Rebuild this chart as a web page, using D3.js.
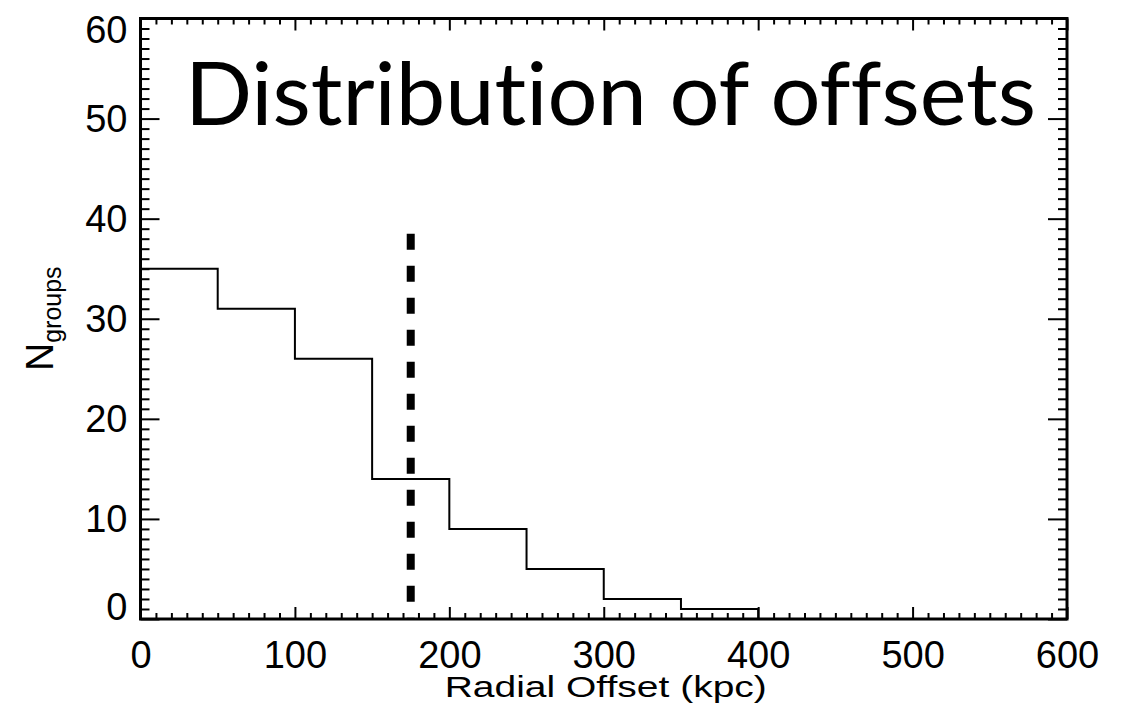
<!DOCTYPE html>
<html>
<head>
<meta charset="utf-8">
<script src="https://cdn.jsdelivr.net/npm/d3@7"></script>
<style>
  html, body { margin: 0; padding: 0; background: #fff; }
  svg { display: block; }
  .tick text { font-family: "Liberation Sans", Arial, Helvetica, sans-serif; fill: #000; }
  .title { font-variant-ligatures: none; font-feature-settings: "liga" 0, "clig" 0; }
</style>
</head>
<body>
<svg id="chart" width="1132" height="718"></svg>
<script>
// Histogram of radial offsets (bin width 50 kpc)
const binEdges = [0, 50, 100, 150, 200, 250, 300, 350, 400];
const groupCounts = [35, 31, 26, 14, 9, 5, 2, 1];
const medianOffset = 175;     // kpc, dashed marker
const medianTop = 38.5;       // height of the dashed marker

const xMajorTicks = [0, 100, 200, 300, 400, 500, 600];
const yMajorTicks = [0, 10, 20, 30, 40, 50, 60];

const svg = d3.select("#chart");
svg.append("rect").attr("width", 1132).attr("height", 718).attr("fill", "#fff");

const plotLeft = 140.5, plotRight = 1067, plotTop = 18.5, plotBottom = 619;
const x = d3.scaleLinear().domain([0, 600]).range([plotLeft, plotRight]);
const y = d3.scaleLinear().domain([0, 60]).range([plotBottom, plotTop]);

const xMinor = d3.range(0, 601, 10).filter(v => v % 100 !== 0);
const yMinor = d3.range(0, 61, 1).filter(v => v % 10 !== 0);

function styleAxis(g) {
  g.select(".domain").remove();
  g.selectAll(".tick line").attr("stroke", "#000").attr("stroke-width", 2);
}

// bottom axis with labels
svg.append("g").attr("transform", `translate(0,${plotBottom})`)
  .call(d3.axisBottom(x).tickValues(xMajorTicks).tickSize(-12).tickPadding(22).tickFormat(d3.format("d")))
  .call(styleAxis)
  .call(g => g.selectAll(".tick text").attr("font-size", 38));
svg.append("g").attr("transform", `translate(0,${plotBottom})`)
  .call(d3.axisBottom(x).tickValues(xMinor).tickSize(-6).tickFormat(""))
  .call(styleAxis);

// top axis, ticks only
svg.append("g").attr("transform", `translate(0,${plotTop})`)
  .call(d3.axisTop(x).tickValues(xMajorTicks).tickSize(-12).tickFormat(""))
  .call(styleAxis);
svg.append("g").attr("transform", `translate(0,${plotTop})`)
  .call(d3.axisTop(x).tickValues(xMinor).tickSize(-6).tickFormat(""))
  .call(styleAxis);

// left axis with labels
svg.append("g").attr("transform", `translate(${plotLeft},0)`)
  .call(d3.axisLeft(y).tickValues(yMajorTicks).tickSize(-19).tickPadding(13).tickFormat(d3.format("d")))
  .call(styleAxis)
  .call(g => g.selectAll(".tick text").attr("font-size", 38)
    .attr("dy", d => d === 60 ? "0.62em" : d === 0 ? "0.0em" : "0.34em"));
svg.append("g").attr("transform", `translate(${plotLeft},0)`)
  .call(d3.axisLeft(y).tickValues(yMinor).tickSize(-9).tickFormat(""))
  .call(styleAxis);

// right axis, ticks only
svg.append("g").attr("transform", `translate(${plotRight},0)`)
  .call(d3.axisRight(y).tickValues(yMajorTicks).tickSize(-19).tickFormat(""))
  .call(styleAxis);
svg.append("g").attr("transform", `translate(${plotRight},0)`)
  .call(d3.axisRight(y).tickValues(yMinor).tickSize(-9).tickFormat(""))
  .call(styleAxis);

// plot frame
svg.append("rect")
  .attr("x", plotLeft).attr("y", plotTop)
  .attr("width", plotRight - plotLeft).attr("height", plotBottom - plotTop)
  .attr("fill", "none").attr("stroke", "#000").attr("stroke-width", 3);

// histogram outline
const stepPoints = groupCounts.map((c, i) => [binEdges[i], c]);
stepPoints.push([binEdges[binEdges.length - 1], 0]);
const step = d3.line().x(d => x(d[0])).y(d => y(d[1])).curve(d3.curveStepAfter);
svg.append("path")
  .attr("d", step(stepPoints))
  .attr("fill", "none").attr("stroke", "#000").attr("stroke-width", 2);

// dashed median marker, drawn from the top down
svg.append("line")
  .attr("x1", x(medianOffset)).attr("x2", x(medianOffset))
  .attr("y1", y(medianTop)).attr("y2", y(0))
  .attr("stroke", "#000").attr("stroke-width", 8)
  .attr("stroke-dasharray", "16,16");

// title
svg.append("text")
  .attr("class", "title")
  .attr("x", 185).attr("y", 125)
  .attr("font-family", "Lato, 'Open Sans', sans-serif")
  .attr("font-size", 87)
  .attr("textLength", 851).attr("lengthAdjust", "spacingAndGlyphs")
  .attr("fill", "#000")
  .text("Distribution of offsets");

// x-axis label
svg.append("text")
  .attr("transform", `translate(${(plotLeft + plotRight) / 2 + 2},697) scale(1,0.76)`)
  .attr("text-anchor", "middle")
  .attr("font-family", "'Liberation Sans', Arial, sans-serif")
  .attr("font-size", 39)
  .attr("fill", "#000")
  .text("Radial Offset (kpc)");

// y-axis label with subscript
const yl = svg.append("text")
  .attr("transform", "translate(53,371) rotate(-90)")
  .attr("font-family", "'Liberation Sans', Arial, sans-serif")
  .attr("fill", "#000");
yl.append("tspan").attr("font-size", 39).text("N");
yl.append("tspan").attr("font-size", 25).attr("dy", 8.3).text("groups");
</script>
</body>
</html>
